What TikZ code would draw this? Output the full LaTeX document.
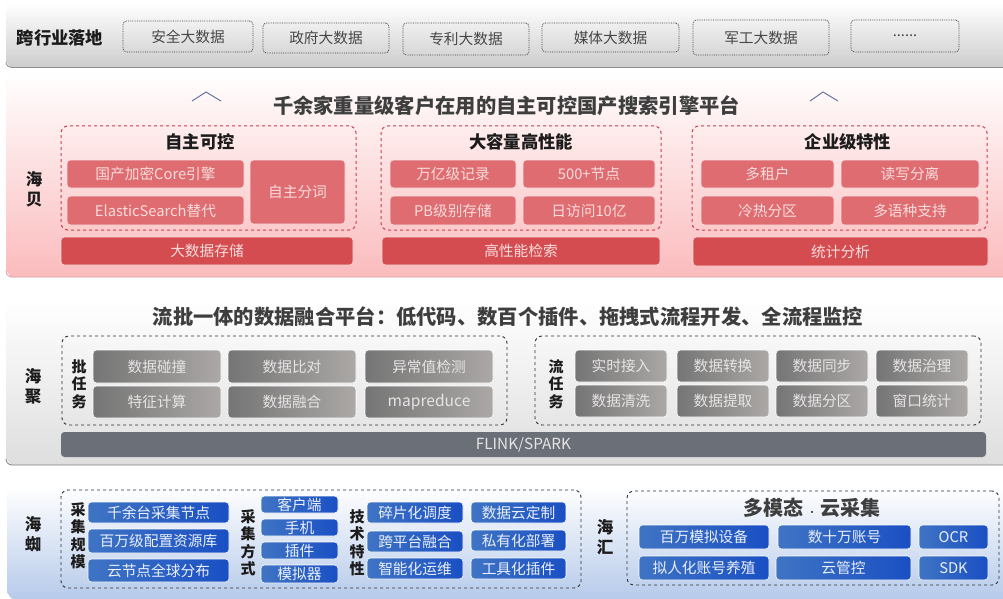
\documentclass[tikz,border=0pt]{standalone}
\usepackage{fontspec}
\setmainfont{Noto Sans CJK SC}
\usetikzlibrary{calc}
\definecolor{txtdark}{HTML}{1C1C1C}
\definecolor{redsub}{HTML}{DE6C70}
\definecolor{redbar}{HTML}{D44C50}
\definecolor{redtxt}{HTML}{F8DCDC}
\definecolor{reddash}{HTML}{C8404C}
\definecolor{greyA}{HTML}{757575}
\definecolor{greyB}{HTML}{ABA8A6}
\definecolor{greytxt}{HTML}{E6E4E4}
\definecolor{slate}{HTML}{6A6F78}
\definecolor{blueA}{HTML}{3F74C4}
\definecolor{blueB}{HTML}{1A4FC4}
\definecolor{bluetxt}{HTML}{EAF0FA}
\definecolor{chev}{HTML}{5A6C9C}
\definecolor{redband}{HTML}{FBBBBD}
\definecolor{blueband}{HTML}{B6CAEA}
\definecolor{greyband}{HTML}{DEDEDE}
\definecolor{topband}{HTML}{CCCCCC}
\tikzset{
  x=1pt,y=-1pt,
  boxbase/.style={inner sep=0pt,outer sep=0pt,align=center,rounded corners=3.5pt},
  dotbox/.style={boxbase,draw=black!75,densely dotted,line width=.8pt,text=black!72,font=\fontsize{14.7}{15}\selectfont},
  redframe/.style={boxbase,draw=reddash,dashed,line width=1pt,rounded corners=7pt},
  darkframe/.style={boxbase,draw=black!80,dashed,line width=.9pt,rounded corners=7pt},
  redcell/.style={boxbase,fill=redsub,draw=white!80!redsub,line width=.6pt,text=redtxt,font=\fontsize{14.7}{15}\selectfont},
  redbase/.style={boxbase,fill=redbar,draw=white!80!redbar,line width=.6pt,text=redtxt,font=\fontsize{14.7}{15}\selectfont},
  greycell/.style={boxbase,left color=greyA,right color=greyB,draw=white!70,line width=.6pt,text=greytxt,font=\fontsize{14.7}{15}\selectfont},
  slatebar/.style={boxbase,fill=slate,text=greytxt,font=\fontsize{15.3}{16}\selectfont},
  bluecell/.style={boxbase,left color=blueA,right color=blueB,draw=white!70,line width=.6pt,text=bluetxt,font=\fontsize{14.7}{15}\selectfont},
  headtxt/.style={inner sep=0pt,text=txtdark,font=\fontsize{17.3}{18}\selectfont\bfseries},
  titletxt/.style={inner sep=0pt,text=txtdark!85,font=\fontsize{20.3}{21}\selectfont\bfseries},
  vtxt/.style={inner sep=0pt,align=center,text=txtdark,font=\fontsize{16.5}{20.5}\selectfont\bfseries},
  vsmall/.style={inner sep=0pt,align=center,text=txtdark,font=\fontsize{15}{17.5}\selectfont\bfseries},
  chevline/.style={draw=chev,line width=.9pt},
}
% [style]{name}{x0}{y0}{x1}{y1}{text}
\newcommand{\bx}[7][]{%
  \pgfmathsetmacro{\mycx}{(#3+#5)/2}%
  \pgfmathsetmacro{\mycy}{(#4+#6)/2}%
  \pgfmathsetmacro{\myw}{#5-#3}%
  \pgfmathsetmacro{\myh}{#6-#4}%
  \node[#1,minimum width=\myw pt,minimum height=\myh pt] (#2) at (\mycx,\mycy) {#7};}
% band with rounded lower left corner
\newcommand{\band}[5]{%
  \path[top color=#1,bottom color=#2] (#4,#3) -- (1003,#3) -- (1003,#5) -- (#4+6,#5) to[out=180,in=90] (#4,#5-6) -- cycle;}
\begin{document}
\begin{tikzpicture}
\useasboundingbox (0,0) rectangle (1003,599);
\fill[white] (0,0) rectangle (1003,599);
% bands
\band{white}{topband}{3}{6}{68}
\draw[black!45,line width=.8pt] (6,62) to[out=-90,in=180] (12,67.5) -- (1003,67.5);
\band{white}{redband}{72}{6}{277}
\draw[redband!85!black,line width=.8pt] (6,271) to[out=-90,in=180] (12,277) -- (1003,277);
\band{white}{greyband}{300}{6}{465}
\draw[black!50,line width=.8pt] (6,459) to[out=-90,in=180] (12,465) -- (1003,465);
\band{white}{blueband}{487}{7}{599}
% top row
\node[inner sep=0pt,text=txtdark,font=\fontsize{17.3}{18}\selectfont\bfseries] (kua) at (60,38) {跨行业落地};
\bx[dotbox]{d1}{123}{21}{253}{52}{安全大数据}
\bx[dotbox]{d2}{263}{23}{389}{53}{政府大数据}
\bx[dotbox]{d3}{403}{23}{529}{55}{专利大数据}
\bx[dotbox]{d4}{542}{23}{679}{52}{媒体大数据}
\bx[dotbox]{d5}{693}{20}{829}{55}{军工大数据}
\bx[dotbox]{d6}{851}{20}{959}{52}{......}
% red section
\draw[chevline] (192,101) -- (206,92) -- (221,101);
\draw[chevline] (810,101) -- (823,92) -- (838,101);
\node[titletxt] (t1) at (506.5,106) {千余家重量级客户在用的自主可控国产搜索引擎平台};
\node[vtxt] (haibei) at (34,189) {海\\贝};
\bx[redframe]{f1}{61}{126}{356}{230}{}
\bx[redframe]{f2}{381}{126}{661}{230}{}
\bx[redframe]{f3}{692}{126}{987}{230}{}
\node[headtxt] (h1) at (200,142) {自主可控};
\node[headtxt] (h2) at (521,142) {大容量高性能};
\node[headtxt] (h3) at (848,142) {企业级特性};
\bx[redcell]{r1}{67}{160}{244}{188}{国产加密Core引擎}
\bx[redcell]{r2}{67}{196}{244}{225}{ElasticSearch替代}
\bx[redcell]{r3}{250}{160}{345}{224}{自主分词}
\bx[redcell]{r4}{390}{160}{516}{188}{万亿级记录}
\bx[redcell]{r5}{390}{196}{516}{225}{PB级别存储}
\bx[redcell]{r6}{523}{160}{655}{188}{500+节点}
\bx[redcell]{r7}{523}{196}{655}{225}{日访问10亿}
\bx[redcell]{r8}{701}{160}{834}{188}{多租户}
\bx[redcell]{r9}{701}{196}{834}{225}{冷热分区}
\bx[redcell]{r10}{841}{160}{979}{188}{读写分离}
\bx[redcell]{r11}{841}{196}{979}{225}{多语种支持}
\bx[redbase]{b1}{61}{237}{353}{265}{大数据存储}
\bx[redbase]{b2}{382}{237}{660}{265}{高性能检索}
\bx[redbase]{b3}{693}{237}{988}{266}{统计分析}
% grey section
\node[titletxt] (t2) at (508,317) {流批一体的数据融合平台：低代码、数百个插件、拖拽式流程开发、全流程监控};
\node[vtxt] (haiju) at (33,386) {海\\聚};
\bx[darkframe]{g1}{62}{336}{507}{425}{}
\bx[darkframe]{g2}{535}{336}{981}{425}{}
\node[vsmall] (pi) at (79,384) {批\\任\\务};
\node[vsmall] (liu) at (556,384) {流\\任\\务};
\bx[greycell]{c1}{93}{350}{221}{383}{数据碰撞}
\bx[greycell]{c2}{228}{350}{356}{383}{数据比对}
\bx[greycell]{c3}{365}{350}{493}{383}{异常值检测}
\bx[greycell]{c4}{93}{386}{221}{418}{特征计算}
\bx[greycell]{c5}{228}{386}{356}{418}{数据融合}
\bx[greycell]{c6}{365}{386}{493}{418}{\fontsize{15.6}{16}\selectfont mapreduce}
\bx[greycell]{s1}{575}{350}{667}{382}{实时接入}
\bx[greycell]{s2}{677}{350}{769}{382}{数据转换}
\bx[greycell]{s3}{776}{350}{868}{382}{数据同步}
\bx[greycell]{s4}{876}{350}{968}{382}{数据治理}
\bx[greycell]{s5}{575}{385}{667}{417}{数据清洗}
\bx[greycell]{s6}{677}{385}{769}{417}{数据提取}
\bx[greycell]{s7}{776}{385}{868}{417}{数据分区}
\bx[greycell]{s8}{876}{385}{968}{417}{窗口统计}
\bx[slatebar]{fl}{61}{432}{986}{457}{FLINK/SPARK}
% blue section
\node[vtxt] (haizhi) at (33,534) {海\\蜘};
\bx[darkframe]{e1}{61}{490}{581}{588}{}
\bx[darkframe]{e2}{627}{491}{999}{585}{}
\node[vsmall] (cjgm) at (78,536) {采\\集\\规\\模};
\node[vsmall] (cjfs) at (248,543) {采\\集\\方\\式};
\node[vsmall] (jstx) at (357,543) {技\\术\\特\\性};
\node[vtxt] (haihui) at (605,537) {海\\汇};
\bx[bluecell]{l1}{88}{502}{229}{523}{千余台采集节点}
\bx[bluecell]{l2}{88}{529}{229}{553}{百万级配置资源库}
\bx[bluecell]{l3}{88}{559}{229}{582}{云节点全球分布}
\bx[bluecell]{m1}{261}{496}{338}{513}{客户端}
\bx[bluecell]{m2}{261}{519}{338}{536}{手机}
\bx[bluecell]{m3}{261}{542}{338}{559}{插件}
\bx[bluecell]{m4}{261}{565}{338}{583}{模拟器}
\bx[bluecell]{t1a}{367}{502}{463}{523}{碎片化调度}
\bx[bluecell]{t2a}{367}{531}{463}{552}{跨平台融合}
\bx[bluecell]{t3a}{367}{558}{463}{579}{智能化运维}
\bx[bluecell]{t4a}{471}{502}{566}{523}{数据云定制}
\bx[bluecell]{t5a}{471}{530}{566}{551}{私有化部署}
\bx[bluecell]{t6a}{471}{558}{566}{579}{工具化插件}
\node[inner sep=0pt,text=txtdark!85,font=\fontsize{20}{21}\selectfont\bfseries] (dmt) at (812,508) {多模态\hspace{4.5pt}{\fontsize{8}{8}\selectfont ·}\hspace{4.5pt}云采集};
\bx[bluecell]{n1}{639}{525}{769}{549}{百万模拟设备}
\bx[bluecell]{n2}{778}{525}{911}{549}{数十万账号}
\bx[bluecell]{n3}{919}{525}{988}{549}{OCR}
\bx[bluecell]{n4}{639}{556}{769}{580}{拟人化账号养殖}
\bx[bluecell]{n5}{776}{556}{911}{580}{云管控}
\bx[bluecell]{n6}{919}{556}{988}{580}{SDK}
\end{tikzpicture}
\end{document}
